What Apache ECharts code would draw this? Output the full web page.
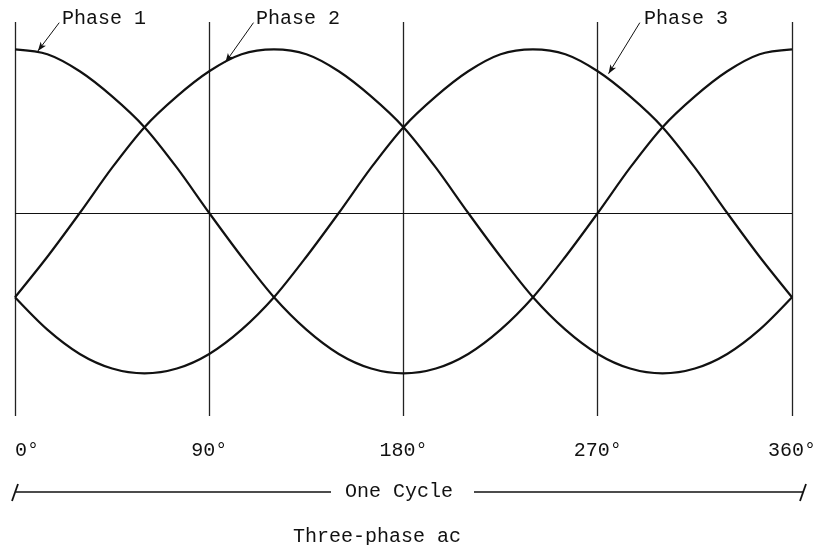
<!DOCTYPE html>
<html>
<head>
<meta charset="utf-8">
<script src="https://cdn.jsdelivr.net/npm/echarts@6/dist/echarts.min.js"></script>
<style>
  html, body { margin: 0; padding: 0; background: #fff; }
  #chart { width: 819px; height: 545px; }
</style>
</head>
<body>
<div id="chart"></div>
<script>
// angle in degrees, one sample every 15°
const degrees = [0, 15, 30, 45, 60, 75, 90, 105, 120, 135, 150, 165, 180,
  195, 210, 225, 240, 255, 270, 285, 300, 315, 330, 345, 360]

// values (peak ~ 1)
const phase1 = [1.01, 0.98, 0.875, 0.72, 0.53, 0.28, 0.00, -0.27, -0.52, -0.72, -0.87, -0.96, -0.99,
  -0.96, -0.87, -0.72, -0.52, -0.27, 0.00, 0.28, 0.53, 0.72, 0.875, 0.98, 1.01]
const phase2 = [-0.52, -0.27, 0.00, 0.28, 0.53, 0.72, 0.875, 0.98, 1.01, 0.98, 0.875, 0.72, 0.53,
  0.28, 0.00, -0.27, -0.52, -0.72, -0.87, -0.96, -0.99, -0.96, -0.87, -0.72, -0.52]
const phase3 = [-0.52, -0.72, -0.87, -0.96, -0.99, -0.96, -0.87, -0.72, -0.52, -0.27, 0.00, 0.28, 0.53,
  0.72, 0.875, 0.98, 1.01, 0.98, 0.875, 0.72, 0.53, 0.28, 0.00, -0.27, -0.52]

const tickLabels = ['0°', '90°', '180°', '270°', '360°']

const font = '"Liberation Mono", "DejaVu Sans Mono", monospace'
const ink = '#111'

const chart = echarts.init(document.getElementById('chart'))

function pairs(vals) {
  return degrees.map((d, i) => [d, vals[i]])
}

function leader(from, to) {
  return [{ coord: from }, { coord: to }]
}

function wave(name, vals, extra) {
  return Object.assign({
    name: name,
    type: 'line',
    data: pairs(vals),
    smooth: 0.3,
    symbol: 'none',
    silent: true,
    lineStyle: { color: ink, width: 2.2 },
    z: 3
  }, extra || {})
}

const leaderStyle = {
  silent: true,
  symbol: ['none', 'arrow'],
  symbolSize: [5, 9],
  label: { show: false },
  lineStyle: { color: ink, width: 1, type: 'solid' }
}

chart.setOption({
  animation: false,
  backgroundColor: '#fff',
  grid: { left: 15, right: 27, top: 22, bottom: 129 },
  xAxis: {
    type: 'value',
    min: 0,
    max: 360,
    interval: 90,
    axisLine: { show: false },
    axisTick: { show: false },
    axisLabel: {
      margin: 25,
      color: ink,
      fontFamily: font,
      fontSize: 20,
      alignMinLabel: 'left',
      formatter: v => tickLabels[v / 90]
    },
    splitLine: { show: true, lineStyle: { color: '#222', width: 1.3 } }
  },
  yAxis: {
    type: 'value',
    min: -1.253,
    max: 1.179,
    show: false,
    splitLine: { show: false }
  },
  series: [
    wave('Phase 1', phase1, {
      markLine: Object.assign({
        data: [
          [{ yAxis: 0, x: 15, symbol: 'none' }, { yAxis: 0, x: 792, symbol: 'none' }],
          leader([20.5, 1.175], [10.6, 1.0])
        ]
      }, leaderStyle)
    }),
    wave('Phase 2', phase2, {
      markLine: Object.assign({ data: [leader([110.5, 1.175], [97.5, 0.93])] }, leaderStyle)
    }),
    wave('Phase 3', phase3, {
      markLine: Object.assign({ data: [leader([289.5, 1.175], [275, 0.86])] }, leaderStyle)
    })
  ],
  graphic: [
    { type: 'text', left: 62, top: 9, style: { text: 'Phase 1', font: '20px ' + font, fill: ink } },
    { type: 'text', left: 256, top: 9, style: { text: 'Phase 2', font: '20px ' + font, fill: ink } },
    { type: 'text', left: 644, top: 9, style: { text: 'Phase 3', font: '20px ' + font, fill: ink } },
    // one cycle span
    { type: 'line', shape: { x1: 16, y1: 492, x2: 331, y2: 492 }, style: { stroke: ink, lineWidth: 1.3 } },
    { type: 'line', shape: { x1: 474, y1: 492, x2: 803, y2: 492 }, style: { stroke: ink, lineWidth: 1.3 } },
    { type: 'line', shape: { x1: 12, y1: 501, x2: 18, y2: 484 }, style: { stroke: ink, lineWidth: 1.8 } },
    { type: 'line', shape: { x1: 800, y1: 501, x2: 806, y2: 484 }, style: { stroke: ink, lineWidth: 1.8 } },
    { type: 'text', left: 345, top: 482, style: { text: 'One Cycle', font: '20px ' + font, fill: ink } },
    { type: 'text', left: 293, top: 527, style: { text: 'Three-phase ac', font: '20px ' + font, fill: ink } }
  ]
})
</script>
</body>
</html>
